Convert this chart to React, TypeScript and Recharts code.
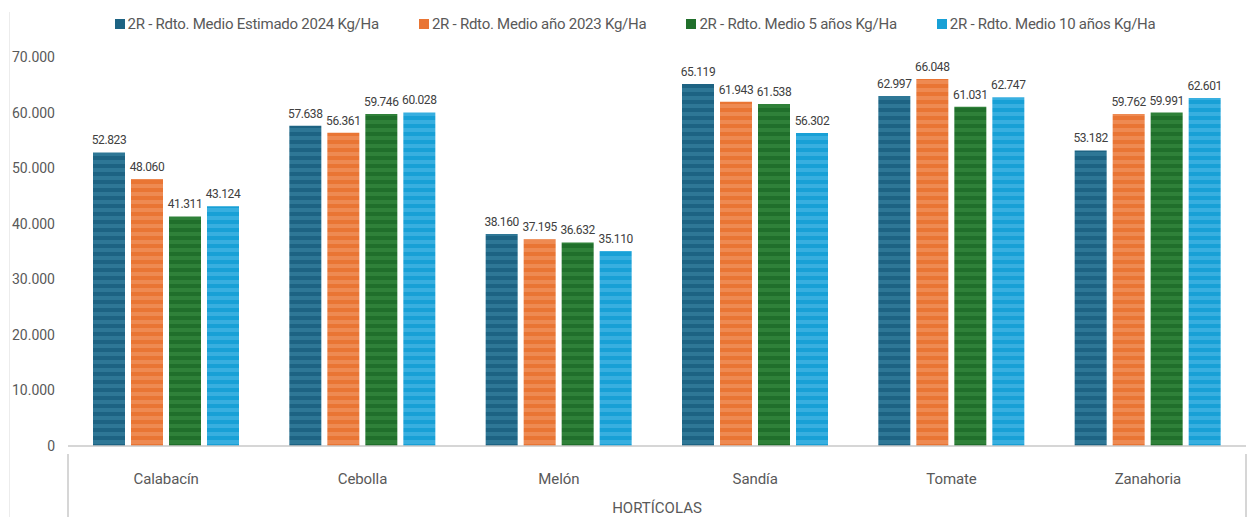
import React from 'react';
import { BarChart, Bar, XAxis, YAxis, LabelList } from 'recharts';

const categories = ['Calabacín', 'Cebolla', 'Melón', 'Sandía', 'Tomate', 'Zanahoria'];
const estimado2024 = [52823, 57638, 38160, 65119, 62997, 53182];
const medio2023 = [48060, 56361, 37195, 61943, 66048, 59762];
const medio5 = [41311, 59746, 36632, 61538, 61031, 59991];
const medio10 = [43124, 60028, 35110, 56302, 62747, 62601];
const yTicks = [0, 10000, 20000, 30000, 40000, 50000, 60000, 70000];

const series = [
  { key: 's2024', name: '2R - Rdto. Medio Estimado 2024 Kg/Ha', values: estimado2024, base: '#1d6383', stripe: '#2e7796', id: 'p1' },
  { key: 's2023', name: '2R - Rdto. Medio año 2023 Kg/Ha', values: medio2023, base: '#e97534', stripe: '#ee8a52', id: 'p2' },
  { key: 's5', name: '2R - Rdto. Medio 5 años Kg/Ha', values: medio5, base: '#206f2b', stripe: '#2f8139', id: 'p3' },
  { key: 's10', name: '2R - Rdto. Medio 10 años Kg/Ha', values: medio10, base: '#18a0d6', stripe: '#38afe0', id: 'p4' },
];

const data = categories.map((c, i) => {
  const row: any = { cat: c };
  series.forEach((s) => (row[s.key] = s.values[i]));
  return row;
});

const FONT = 'Roboto, sans-serif';

function fmt(v: number): string {
  if (v === 0) return '0';
  const s = Math.round(v).toString();
  return s.replace(/\B(?=(\d{3})+(?!\d))/g, '.');
}

const CatTick = (props: any) => {
  const { x, y, payload, index } = props;
  const half = payload && payload.offset ? payload.offset : 98;
  return (
    <g>
      <text x={x} y={y + 26} textAnchor="middle" dominantBaseline="middle" fill="#595959" fontSize={15} fontFamily={FONT} letterSpacing={-0.1}>
        {payload.value}
      </text>
      {index === 0 && <line x1={x - half} y1={y} x2={x - half} y2={y + 71} stroke="#c8c8c8" strokeWidth={1.5} />}
      {index === categories.length - 1 && <line x1={x + half} y1={y} x2={x + half} y2={y + 71} stroke="#c8c8c8" strokeWidth={1.5} />}
    </g>
  );
};

export default function App() {
  return (
    <div style={{ position: 'absolute', left: 0, top: 0, width: 1252, height: 517, background: '#fff' }}>
      <svg width={0} height={0} style={{ position: 'absolute' }}>
        <defs>
          {series.map((s) => (
            <pattern key={s.id} id={s.id} patternUnits="userSpaceOnUse" width={8} height={8}>
              <rect x={0} y={0} width={8} height={8} fill={s.base} />
              <rect x={0} y={0} width={8} height={4} fill={s.stripe} />
            </pattern>
          ))}
        </defs>
      </svg>
      <div style={{ position: 'absolute', left: 9, top: 12, width: 1, height: 505, background: '#ececec' }} />
      <div
        style={{
          position: 'absolute',
          top: 15,
          left: 0,
          width: 1252,
          display: 'flex',
          justifyContent: 'center',
          gap: 40,
          fontFamily: FONT,
          fontSize: 15,
          letterSpacing: -0.25,
          color: '#595959',
          paddingLeft: 18,
          boxSizing: 'border-box',
        }}
      >
        {series.map((s) => (
          <div key={s.key} style={{ display: 'flex', alignItems: 'center', gap: 3, whiteSpace: 'nowrap' }}>
            <span style={{ display: 'inline-block', width: 10, height: 10, background: s.base }} />
            <span>{s.name}</span>
          </div>
        ))}
      </div>
      <BarChart
        width={1252}
        height={517}
        data={data}
        margin={{ top: 57, right: 6, bottom: 0, left: 0 }}
        barGap={6}
        barSize={32}
      >
        <XAxis
          dataKey="cat"
          height={71}
          tick={<CatTick />}
          tickLine={false}
          axisLine={{ stroke: '#c8c8c8', strokeWidth: 1.5 }}
          interval={0}
          label={{ value: 'HORTÍCOLAS', position: 'insideBottom', offset: 4, fill: '#595959', fontSize: 15, fontFamily: FONT }}
        />
        <YAxis
          width={68}
          domain={[0, 70000]}
          ticks={yTicks}
          tickFormatter={fmt}
          axisLine={false}
          tickLine={false}
          tickSize={0}
          tickMargin={13}
          tick={{ fill: '#595959', fontSize: 14, fontFamily: FONT }}
        />
        {series.map((s) => (
          <Bar key={s.key} dataKey={s.key} name={s.name} fill={`url(#${s.id})`} isAnimationActive={false}>
            <LabelList
              dataKey={s.key}
              position="top"
              offset={8}
              formatter={(v: any) => fmt(Number(v))}
              style={{ fill: '#404040', fontSize: 12, fontFamily: FONT, letterSpacing: -0.4 }}
            />
          </Bar>
        ))}
      </BarChart>
    </div>
  );
}
